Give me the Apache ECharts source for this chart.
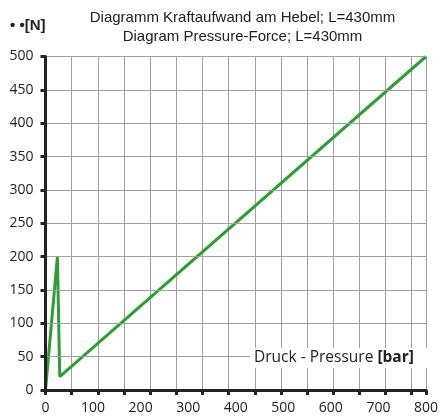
<!DOCTYPE html>
<html>
<head>
<meta charset="utf-8">
<script src="https://cdn.jsdelivr.net/npm/echarts@6/dist/echarts.min.js"></script>
<style>
  html, body { margin: 0; padding: 0; background: #fff; }
  #chart { width: 441px; height: 417px; }
</style>
</head>
<body>
<div id="chart"></div>
<script>
// Lever force over hydraulic pressure, L = 430 mm
const pressureBar = [0, 25, 30, 800];
const forceN = [0, 200, 20, 500];
const xTickLabels = [0, 100, 200, 300, 400, 500, 600, 700, 800];
const yTickLabels = [0, 50, 100, 150, 200, 250, 300, 350, 400, 450, 500];
const titleLines = ['Diagramm Kraftaufwand am Hebel; L=430mm', 'Diagram Pressure-Force; L=430mm'];

const points = pressureBar.map((p, i) => [p, forceN[i]]);
const labelFont = 'Open Sans';
const gridColor = '#a0a0a0';
const axisColor = '#222';

const chart = echarts.init(document.getElementById('chart'), null, { renderer: 'canvas' });
chart.setOption({
  animation: false,
  backgroundColor: '#fff',
  grid: { left: 45.5, right: 11.5, top: 56.5, bottom: 27, containLabel: false },
  xAxis: [
    {
      type: 'value',
      min: xTickLabels[0],
      max: xTickLabels[xTickLabels.length - 1],
      interval: xTickLabels[1] - xTickLabels[0],
      position: 'bottom',
      axisLine: { show: true, lineStyle: { color: axisColor, width: 3 } },
      axisTick: { show: false },
      splitLine: { show: false },
      axisLabel: { color: axisColor, fontFamily: labelFont, fontSize: 14, margin: 11 },
      z: 5
    },
    {
      // fine vertical grid with its own spacing
      type: 'value',
      min: 0,
      max: 800,
      interval: 55,
      position: 'bottom',
      axisLine: { show: false },
      axisTick: { show: true, length: 5, lineStyle: { color: axisColor, width: 3 } },
      axisLabel: { show: false },
      splitLine: { show: true, lineStyle: { color: gridColor, width: 1 } }
    }
  ],
  yAxis: {
    type: 'value',
    min: yTickLabels[0],
    max: yTickLabels[yTickLabels.length - 1],
    interval: yTickLabels[1] - yTickLabels[0],
    axisLine: { show: true, lineStyle: { color: axisColor, width: 3 } },
    axisTick: { show: true, length: 5, lineStyle: { color: axisColor, width: 3 } },
    splitLine: { show: true, lineStyle: { color: gridColor, width: 1 } },
    axisLabel: { color: axisColor, fontFamily: labelFont, fontSize: 14, margin: 12 },
    z: 5
  },
  series: [{
    type: 'line',
    xAxisIndex: 0,
    data: points,
    showSymbol: false,
    symbol: 'none',
    lineStyle: { color: '#2e9e34', width: 3 },
    z: 3
  }],
  graphic: [
    {
      type: 'text',
      x: 10, y: 18,
      style: { text: '• •[N]', font: 'bold 15px "Liberation Sans"', fill: axisColor }
    },
    {
      type: 'text',
      x: 242.5, y: 10,
      style: { text: titleLines[0], font: '15px "Liberation Sans"', fill: axisColor, align: 'center' }
    },
    {
      type: 'text',
      x: 242.5, y: 29,
      style: { text: titleLines[1], font: '15px "Liberation Sans"', fill: axisColor, align: 'center' }
    },
    {
      type: 'rect',
      z: 10,
      shape: { x: 250, y: 348, width: 177, height: 20 },
      style: { fill: '#fff' }
    },
    {
      type: 'text',
      x: 254, y: 358,
      z: 11,
      style: {
        text: '{n|Druck - Pressure }{b|[bar]}',
        verticalAlign: 'middle',
        rich: {
          n: { fontFamily: labelFont, fontSize: 15.5, fill: axisColor },
          b: { fontFamily: labelFont, fontSize: 15.5, fontWeight: 'bold', fill: axisColor }
        }
      }
    }
  ]
});
</script>
</body>
</html>
